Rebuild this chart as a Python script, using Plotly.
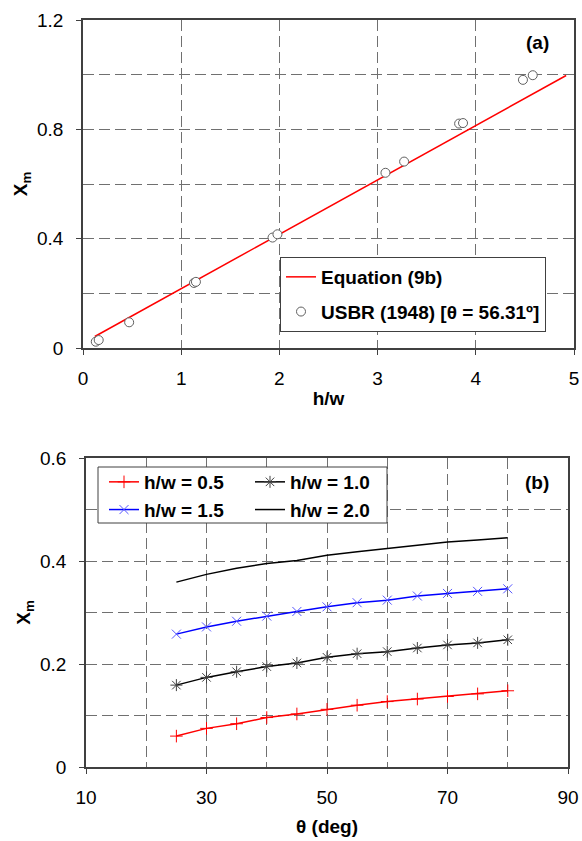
import plotly.graph_objects as go

# ---------------- data: panel (a) ----------------
eq_hw = [0.12, 1.0, 2.0, 3.0, 4.0, 4.92]
eq_xm = [0.042, 0.217, 0.416, 0.615, 0.814, 0.997]
usbr_hw = [0.13, 0.16, 0.47, 1.13, 1.15, 1.93, 1.98, 3.08, 3.27, 3.83, 3.87, 4.48, 4.58]
usbr_xm = [0.023, 0.029, 0.094, 0.238, 0.242, 0.404, 0.416, 0.641, 0.682, 0.821, 0.823, 0.981, 0.998]

# ---------------- data: panel (b) ----------------
theta = [25, 30, 35, 40, 45, 50, 55, 60, 65, 70, 75, 80]
xm_05 = [0.060, 0.075, 0.084, 0.096, 0.103, 0.112, 0.120, 0.127, 0.132, 0.137, 0.142, 0.148]
xm_10 = [0.159, 0.174, 0.185, 0.195, 0.202, 0.213, 0.220, 0.224, 0.231, 0.237, 0.241, 0.247]
xm_15 = [0.258, 0.272, 0.283, 0.293, 0.302, 0.311, 0.319, 0.324, 0.332, 0.337, 0.341, 0.346]
xm_20 = [0.359, 0.374, 0.386, 0.395, 0.401, 0.411, 0.418, 0.424, 0.431, 0.437, 0.441, 0.445]

W, H = 582, 841
FONT = "Liberation Sans, Arial, sans-serif"
GRID = "#707070"
AX = "#404040"
DASH = "11px,5px"

fig = go.Figure()

# panel (a)
fig.add_trace(go.Scatter(x=eq_hw, y=eq_xm, mode="lines", name="Equation (9b)",
                         line=dict(color="#ff0000", width=1.5),
                         xaxis="x", yaxis="y", legend="legend", legendgroup="a1"))
fig.add_trace(go.Scatter(x=usbr_hw, y=usbr_xm, mode="markers",
                         name="USBR (1948) [θ = 56.31º]",
                         marker=dict(symbol="circle", size=9, color="white",
                                     line=dict(color="#606060", width=1)),
                         xaxis="x", yaxis="y", legend="legend", legendgroup="a2"))

# panel (b)
fig.add_trace(go.Scatter(x=theta, y=xm_05, mode="lines+markers", name="h/w = 0.5",
                         line=dict(color="#ff0000", width=1.5),
                         marker=dict(symbol="cross-thin", size=9,
                                     line=dict(color="#ff0000", width=1)),
                         xaxis="x2", yaxis="y2", legend="legend2"))
fig.add_trace(go.Scatter(x=theta, y=xm_15, mode="lines+markers", name="h/w = 1.5",
                         line=dict(color="#0000ff", width=1.5),
                         marker=dict(symbol="x-thin", size=9,
                                     line=dict(color="#5555ff", width=1)),
                         xaxis="x2", yaxis="y2", legend="legend2"))
fig.add_trace(go.Scatter(x=theta, y=xm_10, mode="lines+markers", name="h/w = 1.0",
                         line=dict(color="#000000", width=1.5),
                         marker=dict(symbol="asterisk", size=10,
                                     line=dict(color="#404040", width=1)),
                         xaxis="x2", yaxis="y2", legend="legend3"))
fig.add_trace(go.Scatter(x=theta, y=xm_20, mode="lines", name="h/w = 2.0",
                         line=dict(color="#000000", width=1.5),
                         xaxis="x2", yaxis="y2", legend="legend3"))

tickfont = dict(family=FONT, size=19, color="#000000")
titlefont = dict(family=FONT, size=19, color="#000000", weight="bold")

common = dict(showline=True, linecolor=AX, linewidth=1.5, mirror=True,
              ticks="outside", ticklen=5, tickcolor=AX, tickwidth=1,
              tickfont=tickfont, showgrid=True, gridcolor=GRID, gridwidth=1,
              griddash=DASH, zeroline=False, automargin=False)

fig.update_layout(
    template="none",
    width=W, height=H, margin=dict(l=0, r=0, t=0, b=0, autoexpand=False),
    paper_bgcolor="white", plot_bgcolor="white",
    font=dict(family=FONT, color="#000000"),
    xaxis=dict(domain=[83 / W, 574 / W], anchor="y", range=[0, 5], dtick=1, tick0=0,
               ticklabelstandoff=7,
               title=dict(text="h/w", font=titlefont, standoff=4), **common),
    yaxis=dict(domain=[(H - 348) / H, (H - 20) / H], anchor="x", range=[0, 1.2],
               dtick=0.4, tick0=0, tickformat="~g", ticklabelstandoff=9,
               minor=dict(dtick=0.2, showgrid=True, gridcolor=GRID, griddash=DASH, ticks=""),
               title=dict(text="X<sub>m</sub>", font=titlefont, standoff=4), **common),
    xaxis2=dict(domain=[86 / W, 568 / W], anchor="y2", range=[10, 90], dtick=20, tick0=10,
                ticklabelstandoff=7,
                minor=dict(dtick=10, showgrid=True, gridcolor=GRID, griddash=DASH, ticks=""),
                title=dict(text="θ (deg)", font=titlefont, standoff=13), **common),
    yaxis2=dict(domain=[(H - 767) / H, (H - 458) / H], anchor="x2", range=[0, 0.6],
                dtick=0.2, tick0=0, tickformat="~g", ticklabelstandoff=9,
                minor=dict(dtick=0.1, showgrid=True, gridcolor=GRID, griddash=DASH, ticks=""),
                title=dict(text="X<sub>m</sub>", font=titlefont, standoff=4), **common),
    legend=dict(x=280 / W, y=(H - 257) / H, xanchor="left", yanchor="top",
                bgcolor="white", bordercolor=AX, borderwidth=1,
                font=dict(family=FONT, size=19, color="#000000", weight="bold"),
                tracegroupgap=7, itemwidth=30),
    legend2=dict(x=104 / W, y=(H - 463) / H, xanchor="left", yanchor="top",
                 bgcolor="rgba(0,0,0,0)", borderwidth=0,
                 font=dict(family=FONT, size=19, color="#000000", weight="bold"),
                 itemwidth=30),
    legend3=dict(x=250 / W, y=(H - 463) / H, xanchor="left", yanchor="top",
                 bgcolor="rgba(0,0,0,0)", borderwidth=0,
                 font=dict(family=FONT, size=19, color="#000000", weight="bold"),
                 itemwidth=30),
    shapes=[dict(type="rect", xref="paper", yref="paper",
                 x0=98 / W, x1=387 / W, y0=(H - 523) / H, y1=(H - 467) / H,
                 fillcolor="white", line=dict(color=AX, width=1), layer="above")],
    annotations=[
        dict(text="<b>(a)</b>", xref="paper", yref="paper", x=537 / W, y=(H - 43) / H,
             xanchor="center", yanchor="middle",
             showarrow=False, font=dict(family=FONT, size=19, color="#000000")),
        dict(text="<b>(b)</b>", xref="paper", yref="paper", x=537 / W, y=(H - 482) / H,
             xanchor="center", yanchor="middle",
             showarrow=False, font=dict(family=FONT, size=19, color="#000000")),
    ],
)

fig.write_html("out.html")
